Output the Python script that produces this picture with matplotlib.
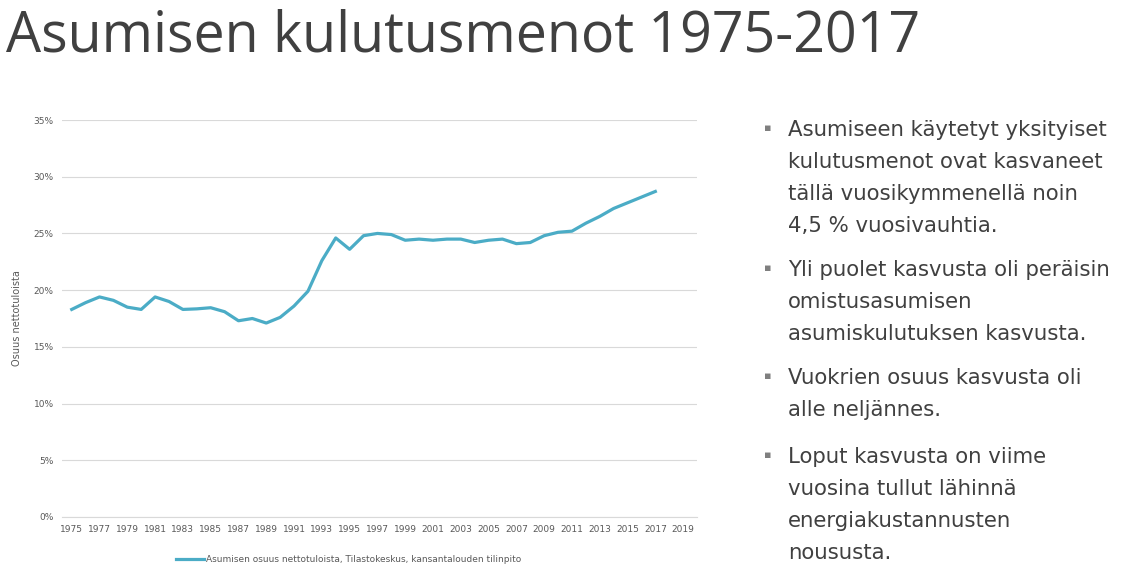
import matplotlib
matplotlib.use("Agg")
import matplotlib.pyplot as plt

years = list(range(1975, 2018))
share = [18.3, 18.9, 19.4, 19.1, 18.5, 18.3, 19.4, 19.0, 18.3, 18.35, 18.45, 18.1, 17.3, 17.5,
         17.1, 17.6, 18.6, 19.9, 22.6, 24.6, 23.6, 24.8, 25.0, 24.9, 24.4, 24.5, 24.4, 24.5,
         24.5, 24.2, 24.4, 24.5, 24.1, 24.2, 24.8, 25.1, 25.2, 25.9, 26.5, 27.2, 27.7, 28.2, 28.7]
xticks = list(range(1975, 2020, 2))
yticks = [0, 5, 10, 15, 20, 25, 30, 35]
title = "Asumisen kulutusmenot 1975-2017"
series_label = "Asumisen osuus nettotuloista, Tilastokeskus, kansantalouden tilinpito"
bullets = [
    ["Asumiseen käytetyt yksityiset", "kulutusmenot ovat kasvaneet", "tällä vuosikymmenellä noin", "4,5 % vuosivauhtia."],
    ["Yli puolet kasvusta oli peräisin", "omistusasumisen", "asumiskulutuksen kasvusta."],
    ["Vuokrien osuus kasvusta oli", "alle neljännes."],
    ["Loput kasvusta on viime", "vuosina tullut lähinnä", "energiakustannusten", "noususta."],
]
bullet_y = [130, 270, 378, 457]

W, H = 1128, 586
fig = plt.figure(figsize=(W/100, H/100), dpi=100)
fig.text(6/W, 1-37/H, title, fontsize=40, color="#404040", va="center", ha="left",
         family="Open Sans")

ax = fig.add_axes([62/W, 1-517/H, (697-62)/W, (517-120)/H])
ax.plot(years, share, color="#4BACC6", lw=2.3)
ax.set_xlim(1974.3, 2020)
ax.set_ylim(0, 35)
ax.set_xticks(xticks)
ax.set_xticklabels([str(x) for x in xticks], fontsize=6.5, color="#595959")
ax.set_yticks(yticks)
ax.set_yticklabels([f"{y}%" for y in yticks], fontsize=6.5, color="#595959")
ax.tick_params(length=0, pad=6)
ax.grid(axis="y", color="#D9D9D9", lw=0.8)
for s in ax.spines.values():
    s.set_visible(False)
ax.spines["bottom"].set_visible(True)
ax.spines["bottom"].set_color("#D9D9D9")
ax.set_ylabel("Osuus nettotuloista", fontsize=7, color="#595959", labelpad=8)

fig.lines.append(plt.Line2D([176/W, 204/W], [1-559/H]*2, color="#4BACC6", lw=2.3,
                            transform=fig.transFigure))
fig.text(206/W, 1-559/H, series_label, fontsize=6.5, color="#595959", va="center")

for lines, y in zip(bullets, bullet_y):
    fig.text(768/W, 1-(y-2)/H, "▪", fontsize=8, color="#7F7F7F", va="center", ha="center")
    for i, t in enumerate(lines):
        fig.text(788/W, 1-(y+32*i)/H, t, fontsize=15.3, color="#404040", va="center")

fig.savefig("out.png", dpi=100)
